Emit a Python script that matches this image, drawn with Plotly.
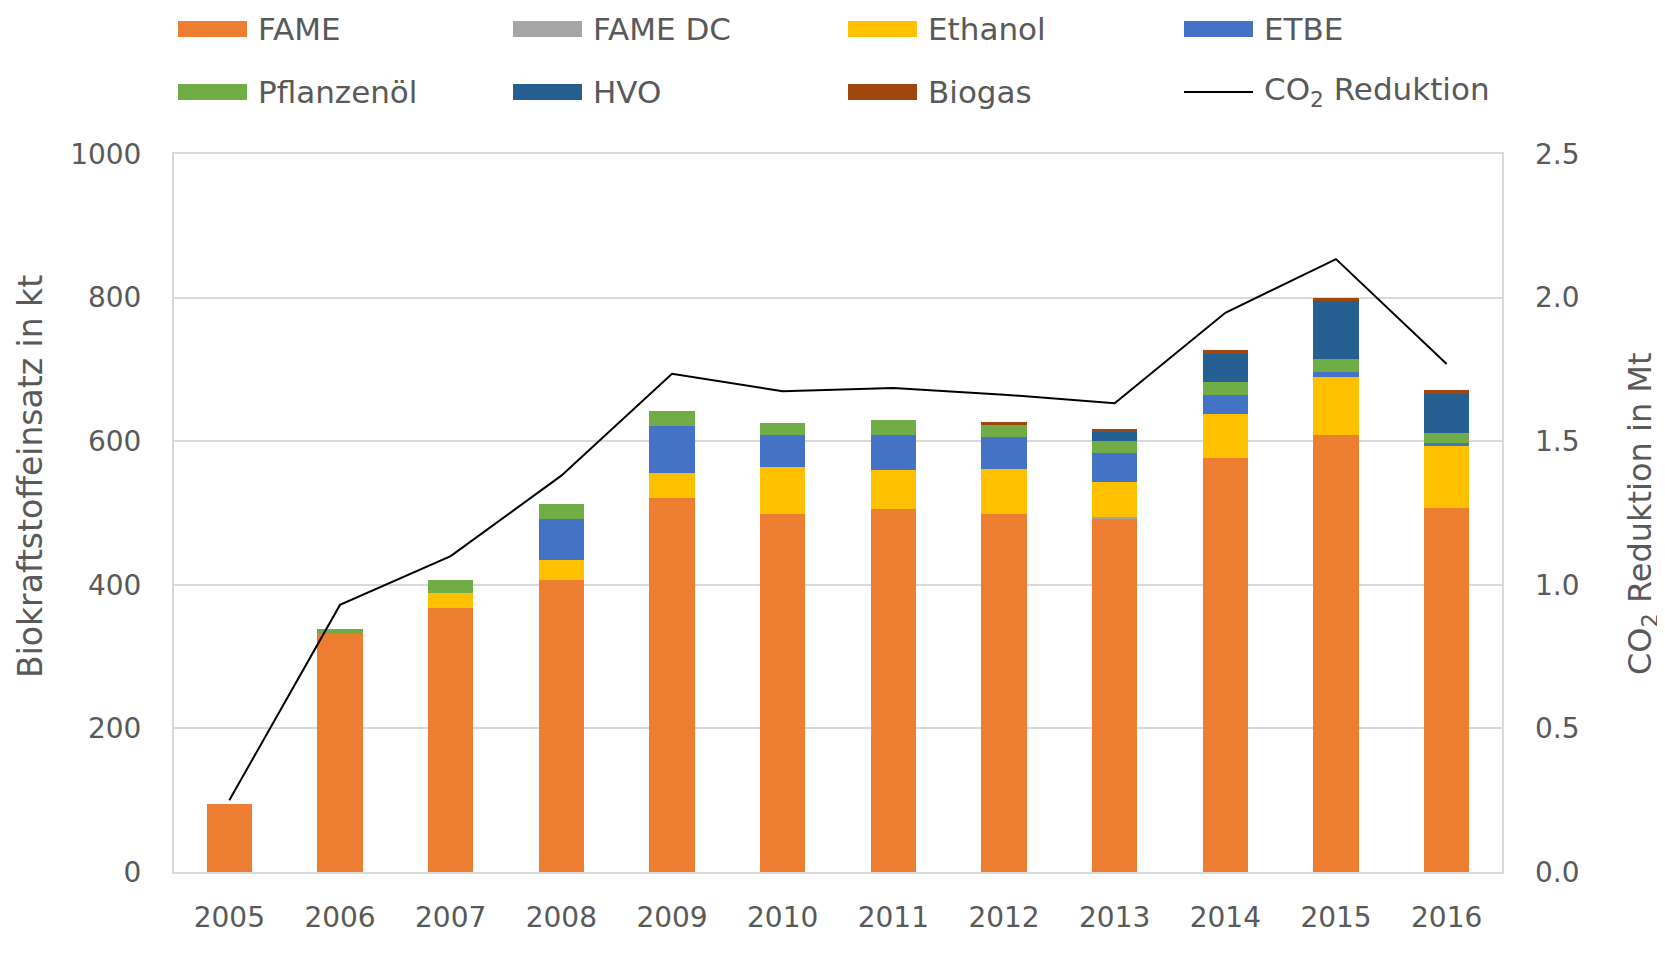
import plotly.graph_objects as go

years = ["2005", "2006", "2007", "2008", "2009", "2010", "2011", "2012", "2013", "2014", "2015", "2016"]
fame = [95, 332, 368, 406, 521, 498, 505, 498, 491, 577, 609, 507]
fame_dc = [0, 0, 0, 0, 0, 0, 0, 0, 4, 0, 0, 0]
ethanol = [0, 0, 20, 28, 35, 66, 55, 63, 48, 61, 80, 87]
etbe = [0, 0, 0, 57, 65, 45, 48, 45, 40, 27, 7, 3]
pflanzenoel = [0, 7, 18, 22, 21, 17, 22, 16, 17, 17, 18, 15]
hvo = [0, 0, 0, 0, 0, 0, 0, 0, 13, 40, 81, 54]
biogas = [0, 0, 0, 0, 0, 0, 0, 5, 4, 5, 4, 5]
co2 = [0.25, 0.93, 1.10, 1.38, 1.735, 1.674, 1.685, 1.662, 1.632, 1.947, 2.134, 1.769]

series_names = ["FAME", "FAME DC", "Ethanol", "ETBE", "Pflanzenöl", "HVO", "Biogas"]
series_values = [fame, fame_dc, ethanol, etbe, pflanzenoel, hvo, biogas]
series_colors = ["#ED7D31", "#A5A5A5", "#FFC000", "#4472C4", "#70AD47", "#255E91", "#9E480E"]
line_name = "CO<sub>2</sub> Reduktion"
y_title = "Biokraftstoffeinsatz in kt"
y2_title = "CO<sub>2</sub> Reduktion in Mt"

FONT = "DejaVu Sans"
TXT = "#595959"
# page body has an 8px margin: figure sized/positioned to compensate
W, H = 1657, 966
L, R, T, B = 166, 1494, 146, 864

fig = go.Figure()
for name, vals, col in zip(series_names, series_values, series_colors):
    fig.add_trace(go.Bar(x=years, y=vals, name=name, marker=dict(color=col, line=dict(width=0)),
                         showlegend=False))
fig.add_trace(go.Scatter(x=years, y=co2, name="CO2 Reduktion", yaxis="y2", mode="lines",
                         line=dict(color="#000000", width=2), showlegend=False))

def px_x(px):
    return (px - L) / (R - L)

def px_y(py):
    return (B - py) / (B - T)

shapes = []
annotations = []
legend_items = list(zip(series_names, series_colors)) + [(line_name, None)]
col_x = [170, 505, 840, 1176]
row_y = [21, 84]
for i, (name, col) in enumerate(legend_items):
    cx = col_x[i % 4]
    cy = row_y[i // 4]
    if col is not None:
        shapes.append(dict(type="rect", xref="paper", yref="paper",
                           x0=px_x(cx), x1=px_x(cx + 69), y0=px_y(cy - 8), y1=px_y(cy + 8),
                           fillcolor=col, line=dict(width=0)))
    else:
        shapes.append(dict(type="line", xref="paper", yref="paper",
                           x0=px_x(cx), x1=px_x(cx + 69), y0=px_y(cy), y1=px_y(cy),
                           line=dict(color="#000000", width=2)))
    annotations.append(dict(text=name, xref="paper", yref="paper", x=px_x(cx + 78), y=px_y(cy),
                            xanchor="left", yanchor="middle", showarrow=False,
                            font=dict(family=FONT, size=31, color=TXT)))

annotations.append(dict(text=y_title, xref="paper", yref="paper",
                        x=px_x(22), y=px_y(469), textangle=-90, showarrow=False,
                        xanchor="center", yanchor="middle",
                        font=dict(family=FONT, size=33, color=TXT)))
annotations.append(dict(text=y2_title, xref="paper", yref="paper",
                        x=px_x(1634), y=px_y(506), textangle=-90, showarrow=False,
                        xanchor="center", yanchor="middle",
                        font=dict(family=FONT, size=32, color=TXT)))

fig.update_layout(
    width=W, height=H,
    margin=dict(l=L, r=W - R, t=T, b=H - B, pad=0, autoexpand=False),
    barmode="stack", bargap=0.59,
    plot_bgcolor="white", paper_bgcolor="white",
    showlegend=False,
    font=dict(family=FONT, size=28, color=TXT),
    xaxis=dict(showline=True, mirror=True, linecolor="#D9D9D9", linewidth=2, automargin=False,
               ticks="", ticklabelstandoff=19, tickfont=dict(size=28, color=TXT)),
    yaxis=dict(range=[0, 1000], dtick=200, showgrid=True, gridcolor="#D9D9D9", gridwidth=2,
               showline=True, mirror=True, linecolor="#D9D9D9", linewidth=2, automargin=False,
               zeroline=False, ticks="", ticklabelstandoff=25, tickfont=dict(size=28, color=TXT)),
    yaxis2=dict(range=[0, 2.5], dtick=0.5, tickformat=".1f", overlaying="y", side="right",
                showgrid=False, zeroline=False, showline=False, ticks="", ticklabelstandoff=32,
                automargin=False, tickfont=dict(size=28, color=TXT)),
    shapes=shapes,
    annotations=annotations,
)

fig.write_html("out.html")
